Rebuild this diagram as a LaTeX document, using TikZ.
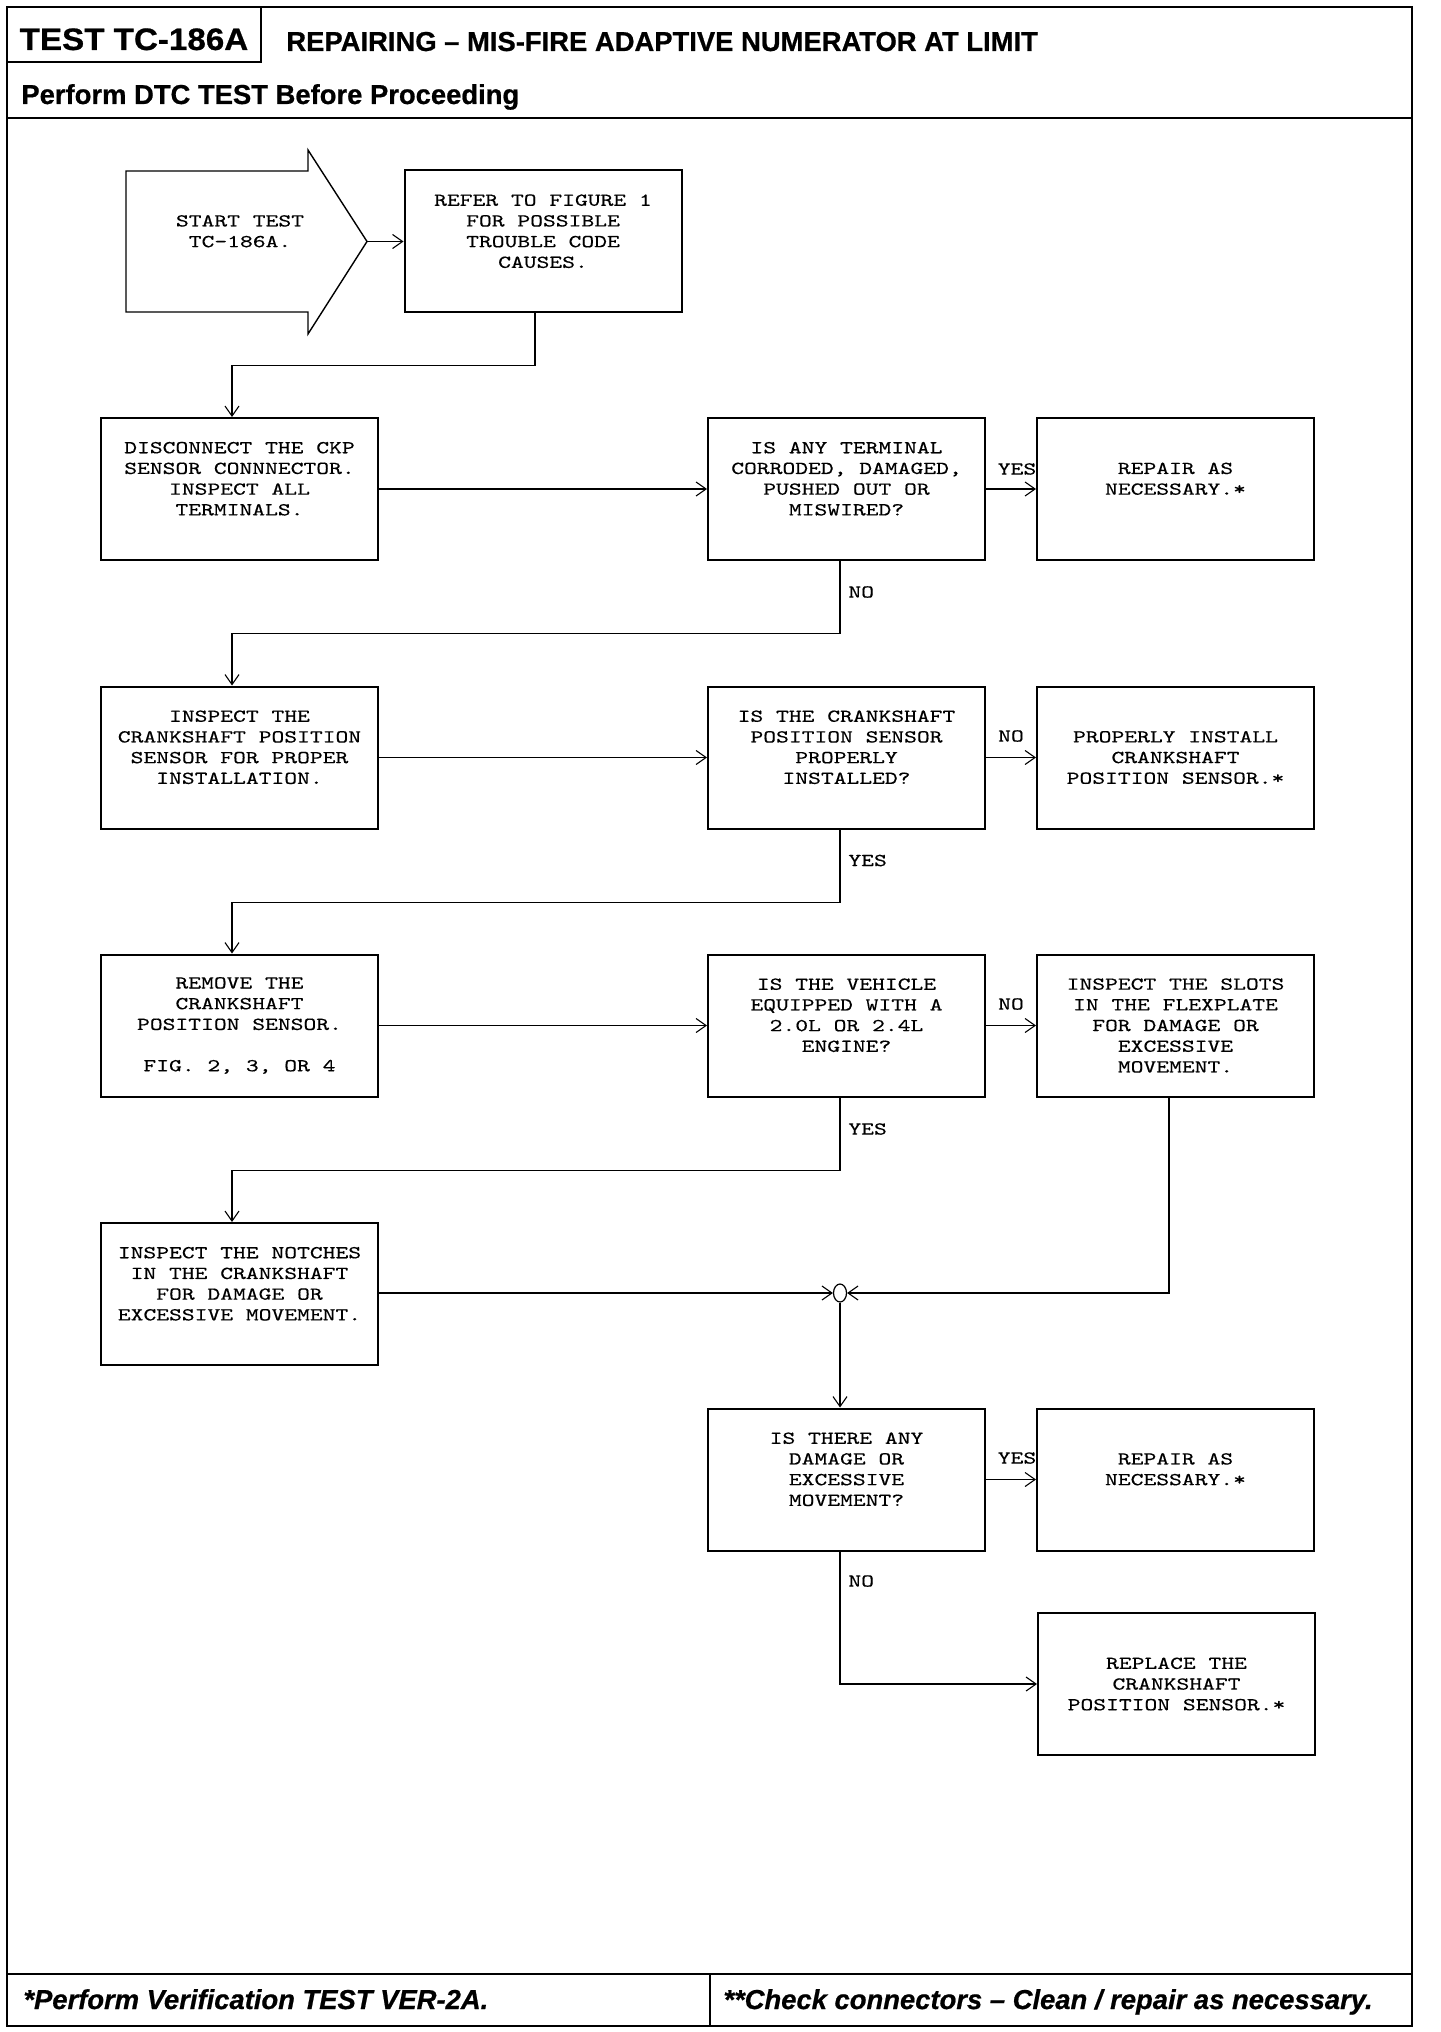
\documentclass[tikz,border=0pt]{standalone}
\usepackage{fontspec}
\usetikzlibrary{arrows.meta,calc,shapes.geometric}
\newfontfamily\boxfont[FakeStretch=1.34,FakeBold=0.4]{lmmono10-regular.otf}
\newfontfamily\hdrfont[BoldFeatures={FakeBold=0.7},BoldItalicFeatures={FakeBold=0.7}]{Liberation Sans}
\newfontfamily\codefont[BoldFeatures={FakeBold=0.7,FakeStretch=1.07}]{Liberation Sans}
\newcommand\blankln{\\\mbox{}}
\tikzset{
  box/.style={draw, line width=1pt, minimum width=138.5pt, minimum height=71pt, inner sep=0pt, align=center, font=\boxfont\fontsize{9.1}{10.35}\selectfont},
  lab/.style={inner sep=0pt, align=center, font=\boxfont\fontsize{9.1}{10.35}\selectfont},
  arr/.style={line width=0.55pt, -{Straight Barb[length=5pt,width=7pt]}},
  hdr/.style={inner sep=0pt, font=\hdrfont\bfseries\fontsize{13.7}{16}\selectfont},
  ftr/.style={inner sep=0pt, font=\hdrfont\bfseries\itshape\fontsize{13.7}{16}\selectfont},
}
\begin{document}
\begin{tikzpicture}[x=0.5pt,y=-0.5pt]
\useasboundingbox (0,0) rectangle (1440,2032);
% frame and header/footer rules
\draw[line width=1pt] (7,7) rectangle (1412,2026);
\draw[line width=1.2pt] (7,7) rectangle (261,62);
\draw[line width=1.2pt] (7,118) -- (1412,118);
\draw[line width=1.2pt] (7,1974) -- (1412,1974);
\draw[line width=1pt] (710,1974) -- (710,2026);
% header texts
\node[hdr, anchor=base, font=\codefont\bfseries\fontsize{15.5}{18}\selectfont] (tcode) at (134,50) {TEST TC-186A};
\node[hdr, anchor=base west] (title) at (286,51) {REPAIRING – MIS-FIRE ADAPTIVE NUMERATOR AT LIMIT};
\node[hdr, anchor=base west] (sub) at (21,104) {Perform DTC TEST Before Proceeding};
\node[ftr, anchor=base west] (foot1) at (23,2009) {*Perform Verification TEST VER-2A.};
\node[ftr, anchor=base west] (foot2) at (723,2009) {**Check connectors – Clean / repair as necessary.};
% start arrow
\draw[line width=0.7pt] (126,171) -- (308,171) -- (308,150) -- (367,241.5) -- (308,334) -- (308,312) -- (126,312) -- cycle;
\coordinate (starttip) at (367,241.5);
\node[lab] (start) at (240,241.5) {START TEST\\TC-186A.\blankln};
% boxes
\node[box] (refer) at (543,241.5) {REFER TO FIGURE 1\\FOR POSSIBLE\\TROUBLE CODE\\CAUSES.\blankln};
\node[box] (d1) at (239.5,489) {DISCONNECT THE CKP\\SENSOR CONNNECTOR.\\INSPECT ALL\\TERMINALS.\blankln};
\node[box] (q1) at (846.5,489) {IS ANY TERMINAL\\CORRODED, DAMAGED,\\PUSHED OUT OR\\MISWIRED?\blankln};
\node[box] (r1) at (1175.5,489) {REPAIR AS\\NECESSARY.*\blankln};
\node[box] (i2) at (239.5,757.5) {INSPECT THE\\CRANKSHAFT POSITION\\SENSOR FOR PROPER\\INSTALLATION.\blankln};
\node[box] (q2) at (846.5,757.5) {IS THE CRANKSHAFT\\POSITION SENSOR\\PROPERLY\\INSTALLED?\blankln};
\node[box] (r2) at (1175.5,757.5) {PROPERLY INSTALL\\CRANKSHAFT\\POSITION SENSOR.*};
\node[box] (m3) at (239.5,1025.5) {REMOVE THE\\CRANKSHAFT\\POSITION SENSOR.\blankln\\FIG. 2, 3, OR 4};
\node[box] (q3) at (846.5,1025.5) {IS THE VEHICLE\\EQUIPPED WITH A\\2.0L OR 2.4L\\ENGINE?\blankln};
\node[box] (r3) at (1175.5,1025.5) {INSPECT THE SLOTS\\IN THE FLEXPLATE\\FOR DAMAGE OR\\EXCESSIVE\\MOVEMENT.};
\node[box] (n4) at (239.5,1294) {INSPECT THE NOTCHES\\IN THE CRANKSHAFT\\FOR DAMAGE OR\\EXCESSIVE MOVEMENT.\blankln};
\node[draw, ellipse, line width=0.6pt, minimum width=6.5pt, minimum height=9pt, inner sep=0pt] (jn) at (840,1293) {};
\node[box] (q4) at (846.5,1479.5) {IS THERE ANY\\DAMAGE OR\\EXCESSIVE\\MOVEMENT?\blankln};
\node[box] (r4) at (1175.5,1479.5) {REPAIR AS\\NECESSARY.*\blankln};
\node[box] (r5) at (1176.5,1684) {REPLACE THE\\CRANKSHAFT\\POSITION SENSOR.*};
% connectors
\draw[arr] (starttip) -- (refer.west);
\draw[arr] ([xshift=-4pt]refer.south) -- ++(0,52) -| ([xshift=-3.75pt]d1.north);
\draw[arr] (d1) -- (q1);
\draw[arr] (q1) -- (r1);
\draw[arr] ([xshift=-3.25pt]q1.south) -- ++(0,72.5) -| ([xshift=-3.75pt]i2.north);
\draw[arr] (i2) -- (q2);
\draw[arr] (q2) -- (r2);
\draw[arr] ([xshift=-3.25pt]q2.south) -- ++(0,73) -| ([xshift=-3.75pt]m3.north);
\draw[arr] (m3) -- (q3);
\draw[arr] (q3) -- (r3);
\draw[arr] ([xshift=-3.25pt]q3.south) -- ++(0,73) -| ([xshift=-3.75pt]n4.north);
\draw[arr] (n4.east |- jn.west) -- (jn.west);
\draw[arr] ([xshift=-3.25pt]r3.south) |- (jn.east);
\draw[arr] (jn.south) -- (jn.south |- q4.north);
\draw[arr] (q4) -- (r4);
\draw[arr] ([xshift=-3.25pt]q4.south) |- (r5.west);
% labels
\node[lab] (l1) at (1017,469) {YES};
\node[lab, anchor=west] (l2) at (848,592) {NO};
\node[lab] (l3) at (1011,736) {NO};
\node[lab, anchor=west] (l4) at (848,860.5) {YES};
\node[lab] (l5) at (1011,1004) {NO};
\node[lab, anchor=west] (l6) at (848,1129) {YES};
\node[lab] (l7) at (1017,1458) {YES};
\node[lab, anchor=west] (l8) at (848,1581) {NO};
\end{tikzpicture}
\end{document}
